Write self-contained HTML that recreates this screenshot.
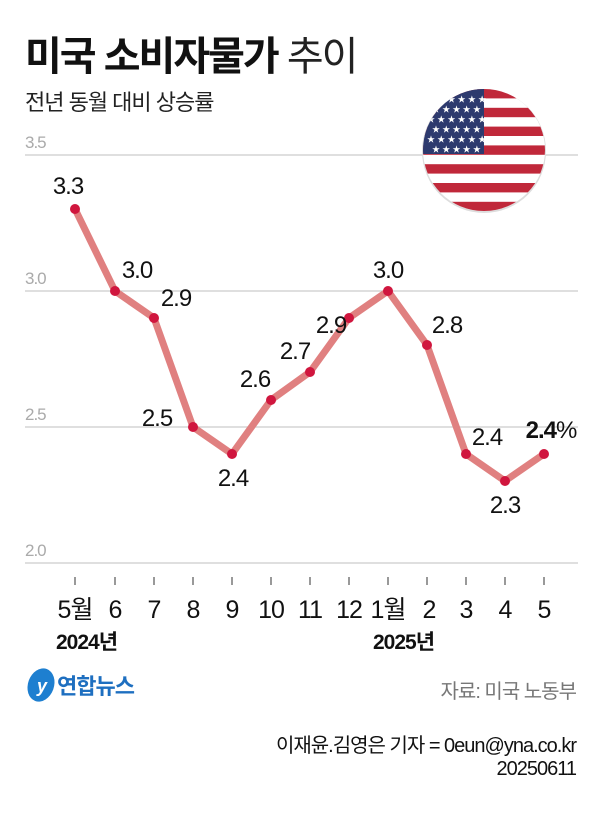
<!DOCTYPE html>
<html><head><meta charset="utf-8"><style>
body{margin:0;background:#fff;}
svg{display:block;font-family:"Liberation Sans","Noto Sans CJK KR",sans-serif;}
</style></head><body>
<svg width="600" height="833" viewBox="0 0 600 833">
<text x="25" y="70" font-size="40" font-weight="bold" fill="#111" letter-spacing="-2">미국 소비자물가 <tspan font-weight="normal" fill="#222">추이</tspan></text>
<text x="25" y="110" font-size="22" fill="#222" letter-spacing="-1">전년 동월 대비 상승률</text>
<g fill="#aaa" font-size="17" letter-spacing="-1">
<text x="25" y="148">3.5</text><text x="25" y="284">3.0</text><text x="25" y="420">2.5</text><text x="25" y="556">2.0</text></g>
<g stroke="#ccc" stroke-width="1.2">
<line x1="25" y1="155" x2="578" y2="155"/><line x1="25" y1="291" x2="578" y2="291"/><line x1="25" y1="427" x2="578" y2="427"/><line x1="25" y1="563" x2="578" y2="563"/></g>
<defs><clipPath id="c"><circle cx="484" cy="150" r="61"/></clipPath></defs>
<circle cx="484" cy="151" r="62" fill="#ddd"/>
<g clip-path="url(#c)">
<rect x="420" y="85" width="130" height="130" fill="#fff"/>
<g fill="#c0283a">
<rect x="420" y="89" width="130" height="9.4"/><rect x="420" y="107.8" width="130" height="9.4"/><rect x="420" y="126.6" width="130" height="9.4"/><rect x="420" y="145.4" width="130" height="9.4"/><rect x="420" y="164.2" width="130" height="9.4"/><rect x="420" y="183" width="130" height="9.4"/><rect x="420" y="201.8" width="130" height="9.4"/></g>
<rect x="420" y="85" width="64" height="69" fill="#2d3a6e"/>
<g fill="#fff" font-size="8">
<text x="427" y="102">★ ★ ★ ★ ★ ★</text><text x="432" y="112">★ ★ ★ ★ ★</text><text x="427" y="122">★ ★ ★ ★ ★ ★</text><text x="432" y="132">★ ★ ★ ★ ★</text><text x="427" y="142">★ ★ ★ ★ ★ ★</text><text x="432" y="152">★ ★ ★ ★ ★</text></g>
</g>
<polyline fill="none" stroke="#e08080" stroke-width="7" stroke-linejoin="round" points="75,209 115,291 154,318 193,427 232,454 271,400 310,372 349,318 388,291 427,345 466,454 505,481 544,454"/>
<g fill="#d0163e">
<circle cx="75" cy="209" r="5"/><circle cx="115" cy="291" r="5"/><circle cx="154" cy="318" r="5"/><circle cx="193" cy="427" r="5"/><circle cx="232" cy="454" r="5"/><circle cx="271" cy="400" r="5"/><circle cx="310" cy="372" r="5"/><circle cx="349" cy="318" r="5"/><circle cx="388" cy="291" r="5"/><circle cx="427" cy="345" r="5"/><circle cx="466" cy="454" r="5"/><circle cx="505" cy="481" r="5"/><circle cx="544" cy="454" r="5"/></g>
<g font-size="24" fill="#111" text-anchor="middle" letter-spacing="-1">
<text x="68" y="194">3.3</text><text x="137" y="278">3.0</text><text x="176" y="306">2.9</text><text x="157" y="426">2.5</text><text x="233" y="486">2.4</text><text x="255" y="387">2.6</text><text x="295" y="359">2.7</text><text x="331" y="333">2.9</text><text x="388" y="278">3.0</text><text x="447" y="333">2.8</text><text x="487" y="445">2.4</text><text x="505" y="513">2.3</text>
<text x="551" y="438" font-weight="bold">2.4<tspan font-weight="normal">%</tspan></text></g>
<g stroke="#555" stroke-width="1.2">
<line x1="75" y1="577" x2="75" y2="585"/><line x1="115" y1="577" x2="115" y2="585"/><line x1="154" y1="577" x2="154" y2="585"/><line x1="193" y1="577" x2="193" y2="585"/><line x1="232" y1="577" x2="232" y2="585"/><line x1="271" y1="577" x2="271" y2="585"/><line x1="310" y1="577" x2="310" y2="585"/><line x1="349" y1="577" x2="349" y2="585"/><line x1="388" y1="577" x2="388" y2="585"/><line x1="427" y1="577" x2="427" y2="585"/><line x1="466" y1="577" x2="466" y2="585"/><line x1="505" y1="577" x2="505" y2="585"/><line x1="544" y1="577" x2="544" y2="585"/></g>
<g font-size="25" fill="#111" text-anchor="middle" letter-spacing="-1">
<text x="75" y="618">5월</text><text x="115" y="618">6</text><text x="154" y="618">7</text><text x="193" y="618">8</text><text x="232" y="618">9</text><text x="271" y="618">10</text><text x="310" y="618">11</text><text x="349" y="618">12</text><text x="388" y="618">1월</text><text x="429" y="618">2</text><text x="466" y="618">3</text><text x="505" y="618">4</text><text x="544" y="618">5</text></g>
<g font-size="21" font-weight="bold" fill="#111" letter-spacing="-1">
<text x="56" y="649">2024년</text><text x="373" y="649">2025년</text></g>
<ellipse cx="41" cy="685" rx="13" ry="17" fill="#1e7fd0" transform="rotate(20 41 685)"/>
<text x="37" y="692" font-size="18" font-style="italic" fill="#fff" font-weight="bold">y</text>
<text x="57" y="694" font-size="22" font-weight="bold" fill="#1e6fc0" letter-spacing="-1">연합뉴스</text>
<g fill="#111" text-anchor="end" letter-spacing="-1">
<text x="576" y="698" font-size="20" fill="#777">자료: 미국 노동부</text>
<text x="576" y="752" font-size="20">이재윤.김영은 기자 = 0eun@yna.co.kr</text>
<text x="576" y="775" font-size="20">20250611</text></g>
</svg>
</body></html>
